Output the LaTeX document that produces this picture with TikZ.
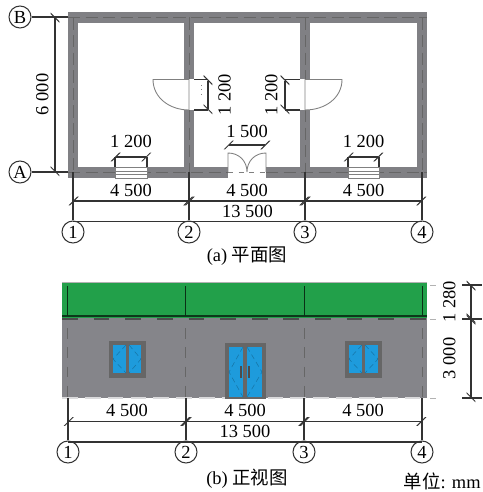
\documentclass[tikz,border=0pt]{standalone}
\usepackage{fontspec}
\setmainfont{Liberation Serif}
\newfontfamily\cjk{Noto Sans CJK SC}
\usetikzlibrary{arrows.meta}
\definecolor{wallgray}{HTML}{808084}
\definecolor{facegray}{HTML}{85858A}
\definecolor{roofgreen}{HTML}{22A04A}
\definecolor{paneblue}{HTML}{1E9BDC}
\definecolor{linegray}{HTML}{333333}
\begin{document}
\begin{tikzpicture}[x=0.02cm, y=-0.02cm, line join=miter, font=\fontsize{10.5}{12}\selectfont,
  wall/.style={draw=wallgray, line width=6pt},
  axisdash/.style={draw=black!60, line width=0.4pt, dash pattern=on 7pt off 3pt},
  thinline/.style={draw=linegray, line width=0.8pt},
  dimline/.style={draw=linegray, line width=0.8pt, {Bar[width=5pt, slant=1]}-{Bar[width=5pt, slant=1]}},
  doorline/.style={draw=gray, line width=0.5pt},
  axisnum/.style={circle, draw=linegray, line width=0.6pt, fill=white, minimum size=22*0.02cm, inner sep=0pt},
  dimtext/.style={inner sep=1pt},
  winframe/.style={draw=black!60, fill=black!60},
  winpane/.style={fill=paneblue},
  panemark/.style={draw=black!25!paneblue, line width=0.3pt, densely dashed}]

  \useasboundingbox (0,0) rectangle (482,492);

  % plan walls
  \draw[wall] (189,79) -- (189,17.5) -- (73,17.5) -- (73,172.5) -- (228,172.5);
  \draw[wall] (189,110) -- (189,172.5);
  \draw[wall] (305,79) -- (305,17.5) -- (189,17.5);
  \draw[wall] (305,110) -- (305,172.5);
  \draw[wall] (305,17.5) -- (422,17.5) -- (422,172.5) -- (266,172.5);
  \draw[axisdash] (68,17.5) -- (427,17.5);
  \draw[axisdash] (73,17.5) -- (73,172.5);
  \draw[axisdash] (189,17.5) -- (189,79);
  \draw[axisdash] (189,110) -- (189,172.5);
  \draw[axisdash] (305,17.5) -- (305,79);
  \draw[axisdash] (305,110) -- (305,172.5);
  \draw[axisdash] (422,17.5) -- (422,172.5);
  \draw[axisdash] (68,172.5) -- (228,172.5);
  \draw[axisdash] (266,172.5) -- (427,172.5);

  % plan windows and doors
  \draw[doorline, fill=white] (115,167) rectangle (147,178);
  \draw[doorline] (115,171) -- (147,171);
  \draw[doorline] (115,174) -- (147,174);
  \draw[doorline, fill=white] (348,167) rectangle (379,178);
  \draw[doorline] (348,171) -- (379,171);
  \draw[doorline] (348,174) -- (379,174);
  \draw[doorline] (228,172) -- (228,153) .. controls (239,153) and (247,161) .. (247,172) .. controls (247,161) and (255,153) .. (266,153) -- (266,172);
  \draw[doorline, dashed] (228,172) -- (266,172);
  \draw[doorline] (189,110) -- (189,79.5) -- (153,79.5) .. controls (153,98) and (170,110) .. (189,110);
  \draw[doorline] (305,110) -- (305,79.5) -- (342,79.5) .. controls (342,98) and (325,110) .. (305,110);
  \draw[doorline, dotted] (201,85) -- (201,97);

  % plan grid
  \node[axisnum] (axisB) at (20,17) {B};
  \node[axisnum] (axisA) at (20,172) {A};
  \node[axisnum] (plannum1) at (73,232) {1};
  \node[axisnum] (plannum2) at (189,232) {2};
  \node[axisnum] (plannum3) at (305,232) {3};
  \node[axisnum] (plannum4) at (422,232) {4};
  \node[coordinate] (wallA) at (68,172) {};
  \node[coordinate] (wallB) at (68,17) {};
  \node[coordinate] (dimside) at (55,0) {};
  \node[coordinate] (planbase) at (0,172) {};
  \node[coordinate] (planrow) at (0,201) {};
  \node[coordinate] (plantotal) at (0,221.5) {};

  \draw[thinline] (axisB) -- (wallB);
  \draw[thinline] (axisA) -- (wallA);
  \draw[thinline] (plannum1) -- (plannum1 |- planbase);
  \draw[thinline] (plannum2) -- (plannum2 |- planbase);
  \draw[thinline] (plannum3) -- (plannum3 |- planbase);
  \draw[thinline] (plannum4) -- (plannum4 |- planbase);
  \draw[dimline] (dimside |- axisB) -- node[dimtext, left=2.3pt, rotate=90, anchor=south] (sidetext) {6 000} (dimside |- axisA);
  \draw[dimline] (plannum1 |- planrow) -- node[dimtext, above=1.3pt] (planfirst) {4 500} (plannum2 |- planrow);
  \draw[dimline] (plannum2 |- planrow) -- node[dimtext, above=1.3pt] (plansecond) {4 500} (plannum3 |- planrow);
  \draw[dimline] (plannum3 |- planrow) -- node[dimtext, above=1.3pt] (planthird) {4 500} (plannum4 |- planrow);
  \draw[thinline] (plannum1 |- plantotal) -- node[dimtext, above=1pt] (planall) {13 500} (plannum4 |- plantotal);

  % plan openings
  \node[coordinate] (winlefta) at (115,157) {};
  \node[coordinate] (winleftb) at (147,157) {};
  \node[coordinate] (winrighta) at (348,157) {};
  \node[coordinate] (winrightb) at (379,157) {};
  \node[coordinate] (doora) at (228,145) {};
  \node[coordinate] (doorb) at (266,145) {};
  \node[coordinate] (sidea) at (208,79.5) {};
  \node[coordinate] (sideb) at (208,110) {};
  \node[coordinate] (sidec) at (285,79.5) {};
  \node[coordinate] (sided) at (285,110) {};
  \draw[dimline] (winlefta) -- node[dimtext, above=4pt] (winlefttext) {1 200} (winleftb);
  \draw[dimline] (winrighta) -- node[dimtext, above=4pt] (winrighttext) {1 200} (winrightb);
  \draw[dimline] (doora) -- node[dimtext, above=3pt] (doortext) {1 500} (doorb);
  \draw[dimline] (sidea) -- node[dimtext, right=4.5pt, rotate=90, anchor=north] (sideatext) {1 200} (sideb);
  \draw[dimline] (sidec) -- node[dimtext, left=2.9pt, rotate=90, anchor=south] (sidectext) {1 200} (sided);
  \draw[thinline] (winlefta) -- (115,167);
  \draw[thinline] (winleftb) -- (147,167);
  \draw[thinline] (winrighta) -- (348,167);
  \draw[thinline] (winrightb) -- (379,167);
  \draw[thinline] (sidea) -- (194,79.5);
  \draw[thinline] (sideb) -- (194,110);
  \draw[thinline] (sidec) -- (300,79.5);
  \draw[thinline] (sided) -- (300,110);

  \node (plancaption) at (247,256) {(a) {\cjk 平面图}};

  % front view
  \fill[roofgreen] (62,282) rectangle (427,318);
  \fill[facegray] (62,318) rectangle (427,398);
  \draw[gray!60, line width=0.4pt] (62,282) -- (427,282);
  \draw[black!65!roofgreen, line width=0.7pt] (62,316) -- (427,316);
  \draw[black!70, line width=0.6pt, dash pattern=on 9pt off 9pt] (62,319) -- (427,319);
  \draw[white!70!facegray, line width=0.6pt, dash pattern=on 9pt off 4pt] (62,398) -- (427,398);
  \draw[black!70!roofgreen, line width=0.5pt] (67.5,286) -- (67.5,316);
  \draw[black!70!roofgreen, line width=0.5pt] (185.5,286) -- (185.5,316);
  \draw[black!70!roofgreen, line width=0.5pt] (304,286) -- (304,316);
  \draw[black!70!roofgreen, line width=0.5pt] (422.5,286) -- (422.5,316);
  \draw[axisdash, dash pattern=on 6pt off 5pt] (67.5,328) -- (67.5,398);
  \draw[axisdash, dash pattern=on 6pt off 5pt] (185.5,328) -- (185.5,398);
  \draw[axisdash, dash pattern=on 6pt off 5pt] (304,328) -- (304,398);
  \draw[axisdash, dash pattern=on 6pt off 5pt] (422.5,328) -- (422.5,398);

  % front windows and door
  \draw[winframe] (109,341) rectangle (145,377);
  \fill[winpane] (113,345) rectangle (126,373);
  \fill[winpane] (129,345) rectangle (141,373);
  \draw[panemark] (126,345) -- (113,359) -- (126,373);
  \draw[panemark] (129,345) -- (141,359) -- (129,373);
  \draw[winframe] (345,341) rectangle (381,377);
  \fill[winpane] (349,345) rectangle (362,373);
  \fill[winpane] (365,345) rectangle (378,373);
  \draw[panemark] (362,345) -- (349,359) -- (362,373);
  \draw[panemark] (365,345) -- (378,359) -- (365,373);
  \draw[winframe] (225,343) rectangle (265,398);
  \fill[winpane] (229,347) rectangle (243,397);
  \fill[winpane] (247,347) rectangle (262,397);
  \draw[panemark] (243,347) -- (229,372) -- (243,397);
  \draw[panemark] (247,347) -- (262,372) -- (247,397);
  \draw[black!70, line width=0.8pt] (241,366) -- (241,378);
  \draw[black!70, line width=0.8pt] (249,366) -- (249,378);

  % front grid
  \node[axisnum] (frontnum1) at (68,452) {1};
  \node[axisnum] (frontnum2) at (186,452) {2};
  \node[axisnum] (frontnum3) at (304,452) {3};
  \node[axisnum] (frontnum4) at (422,452) {4};
  \node[coordinate] (frontbase) at (0,398) {};
  \node[coordinate] (frontrow) at (0,421.5) {};
  \node[coordinate] (fronttotal) at (0,442) {};
  \draw[thinline] (frontnum1) -- (frontnum1 |- frontbase);
  \draw[thinline] (frontnum2) -- (frontnum2 |- frontbase);
  \draw[thinline] (frontnum3) -- (frontnum3 |- frontbase);
  \draw[thinline] (frontnum4) -- (frontnum4 |- frontbase);
  \draw[dimline] (frontnum1 |- frontrow) -- node[dimtext, above=1.3pt] (frontfirst) {4 500} (frontnum2 |- frontrow);
  \draw[dimline] (frontnum2 |- frontrow) -- node[dimtext, above=1.3pt] (frontsecond) {4 500} (frontnum3 |- frontrow);
  \draw[dimline] (frontnum3 |- frontrow) -- node[dimtext, above=1.3pt] (frontthird) {4 500} (frontnum4 |- frontrow);
  \draw[thinline] (frontnum1 |- fronttotal) -- node[dimtext, above=1pt] (frontall) {13 500} (frontnum4 |- fronttotal);

  % heights
  \node[coordinate] (heighttop) at (471,285) {};
  \node[coordinate] (heightmid) at (471,319) {};
  \node[coordinate] (heightlow) at (471,398) {};
  \draw[dimline] (heighttop) -- node[dimtext, left=7.4pt, rotate=90, anchor=south] (heightatext) {1 280} (heightmid);
  \draw[dimline] (heightmid) -- node[dimtext, left=7.4pt, rotate=90, anchor=south] (heightbtext) {3 000} (heightlow);
  \draw[gray!60, line width=0.5pt] (430,285) -- (436,285);
  \draw[gray!60, line width=0.5pt] (430,319) -- (436,319);
  \draw[gray!60, line width=0.5pt] (430,398) -- (436,398);
  \draw[thinline] (462,285) -- (482,285);
  \draw[thinline] (462,319) -- (482,319);
  \draw[thinline] (462,398) -- (482,398);

  \node (frontcaption) at (247,479) {(b) {\cjk 正视图}};
  \node[anchor=east, inner sep=0pt] (unitlabel) at (481,481) {{\cjk 单位}: mm};
\end{tikzpicture}
\end{document}
